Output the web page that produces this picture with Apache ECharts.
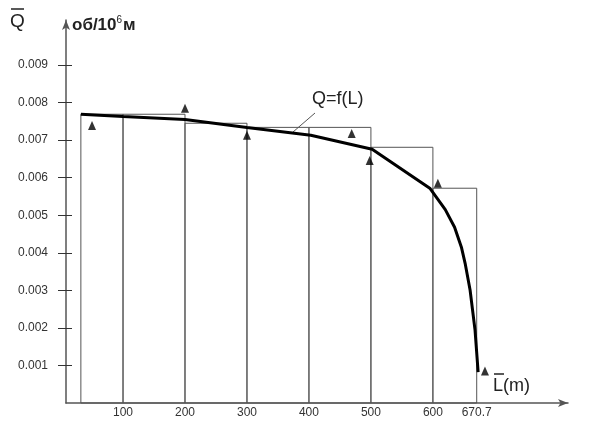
<!DOCTYPE html>
<html>
<head>
<meta charset="utf-8">
<script src="https://cdn.jsdelivr.net/npm/echarts@6/dist/echarts.min.js"></script>
<style>
  html, body { margin: 0; padding: 0; background: #fff; }
  #chart { width: 598px; height: 423px; }
</style>
</head>
<body>
<div id="chart"></div>
<script>
var dom = document.getElementById("chart");
var myChart = echarts.init(dom, null, { renderer: 'canvas' });

// histogram steps: interval edges and heights
var binStart = [32, 100, 200, 300, 400, 500, 600];
var binEnd   = [100, 200, 300, 400, 500, 600, 670.7];
var binQ     = [0.00769, 0.00769, 0.00745, 0.00734, 0.00734, 0.00681, 0.00572];

// curve Q=f(L)
var curveL = [32, 100, 200, 300, 403, 502, 595, 620, 635, 646, 652, 660, 668, 673];
var curveQ = [0.00769, 0.00763, 0.00755, 0.00734, 0.00713, 0.00676, 0.00572, 0.00515, 0.00468, 0.00415, 0.00372, 0.00301, 0.00194, 0.00082];

// measured points (triangles)
var pointL = [50, 200, 300, 469, 498, 608, 684];
var pointQ = [0.00739, 0.00785, 0.00713, 0.00718, 0.00646, 0.00585, 0.00085];

var xLabels = [100, 200, 300, 400, 500, 600, 670.7];
var yLabels = [0.001, 0.002, 0.003, 0.004, 0.005, 0.006, 0.007, 0.008, 0.009];

var bins = binStart.map(function (s, i) { return [s, binEnd[i], binQ[i]]; });
var curve = curveL.map(function (l, i) { return [l, curveQ[i]]; });
var points = pointL.map(function (l, i) { return [l, pointQ[i]]; });

var font = 'Liberation Sans, Arial, sans-serif';
var labelFont = { color: '#333', fontSize: 12, fontFamily: font };

var option = {
  animation: false,
  backgroundColor: '#fff',
  grid: { left: 66, right: 30, top: 20, bottom: 20, containLabel: false },
  xAxis: {
    type: 'value',
    min: 8,
    max: 818,
    axisLine: { onZero: false, lineStyle: { color: '#555', width: 1.5 }, symbol: ['none', 'arrow'], symbolSize: [6, 10] },
    axisTick: { show: false },
    splitLine: { show: false },
    axisLabel: Object.assign({ customValues: xLabels, margin: 4, formatter: function (v) { return String(v); } }, labelFont)
  },
  yAxis: [{
    type: 'value',
    min: 0,
    max: 0.0102,
    axisLine: { onZero: false, lineStyle: { color: '#555', width: 1.5 }, symbol: ['none', 'arrow'], symbolSize: [6, 10] },
    axisTick: { show: true, customValues: yLabels, length: 8, lineStyle: { color: '#333' } },
    splitLine: { show: false },
    axisLabel: Object.assign({ customValues: yLabels, margin: 18, formatter: function (v) { return v.toFixed(3); } }, labelFont)
  }, {
    type: 'value',
    position: 'left',
    min: 0,
    max: 0.0102,
    axisLine: { show: false },
    axisTick: { show: true, inside: true, customValues: yLabels, length: 6, lineStyle: { color: '#333' } },
    axisLabel: { show: false },
    splitLine: { show: false }
  }],
  graphic: [
    { type: 'text', left: 10, top: 12, style: { text: 'Q', fontSize: 19, fill: '#222', fontFamily: font } },
    { type: 'line', shape: { x1: 11, y1: 9, x2: 24, y2: 9 }, style: { stroke: '#222', lineWidth: 1.5 } },
    { type: 'text', left: 72, top: 15, style: {
        text: '{a|об/10}{s|6}{a|м}',
        rich: {
          a: { fontSize: 17, fontWeight: 'bold', fill: '#222', fontFamily: font },
          s: { fontSize: 10, fill: '#222', verticalAlign: 'top', padding: [0, 1, 10, 0], fontFamily: font }
        } } },
    { type: 'text', left: 312, top: 90, style: { text: 'Q=f(L)', fontSize: 18, fill: '#222', fontFamily: font } },
    { type: 'line', shape: { x1: 315, y1: 113, x2: 293, y2: 132 }, style: { stroke: '#555', lineWidth: 1 } },
    { type: 'text', left: 493, top: 377, style: { text: 'L(m)', fontSize: 18, fill: '#222', fontFamily: font } },
    { type: 'line', shape: { x1: 494, y1: 374, x2: 504, y2: 374 }, style: { stroke: '#222', lineWidth: 1.5 } }
  ],
  series: [
    {
      type: 'custom',
      name: 'bins',
      renderItem: function (params, api) {
        var p0 = api.coord([api.value(0), api.value(2)]);
        var p1 = api.coord([api.value(1), 0]);
        return {
          type: 'rect',
          shape: { x: p0[0], y: p0[1], width: p1[0] - p0[0], height: p1[1] - p0[1] },
          style: { fill: 'none', stroke: '#555', lineWidth: 1 }
        };
      },
      encode: { x: [0, 1], y: 2 },
      data: bins,
      z: 1
    },
    {
      type: 'line',
      name: 'Q=f(L)',
      data: curve,
      smooth: false,
      showSymbol: false,
      lineStyle: { color: '#000', width: 3 },
      z: 3
    },
    {
      type: 'scatter',
      name: 'points',
      data: points,
      symbol: 'triangle',
      symbolSize: [8, 9],
      itemStyle: { color: '#000' },
      z: 4
    }
  ]
};

if (option && typeof option === "object") {
  myChart.setOption(option, true);
}
</script>
</body>
</html>
